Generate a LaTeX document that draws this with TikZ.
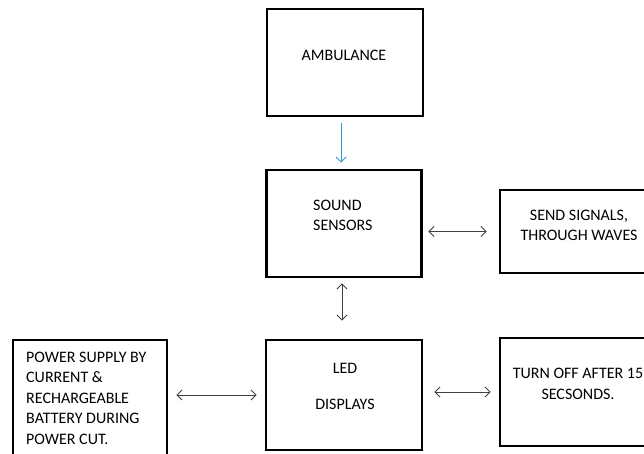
\documentclass[tikz,border=0pt]{standalone}
\usepackage{fontspec}
\setmainfont{Carlito}
\usetikzlibrary{arrows.meta}

\begin{document}
\begin{tikzpicture}[x=1pt, y=-1pt,
		box/.style={draw=black, line width=2.8pt, inner sep=0pt},
		txt/.style={inner sep=0pt, font=\fontsize{16}{20}\selectfont},
		link/.style={draw=black!75, line width=0.9pt, {Straight Barb[length=5pt,width=10pt]}-{Straight Barb[length=5pt,width=10pt]}},
		feed/.style={draw=blue!35!cyan!60!gray, line width=0.9pt, -{Straight Barb[length=5pt,width=10pt]}}]
				%%%%% START %%%%%
				\useasboundingbox (0, 0) rectangle (644, 453);
				\clip (0, 0) rectangle (644, 453);
				
				\node[box, minimum width=156, minimum height=107] (amb) at (345, 62.5) {};
				\node[box, minimum width=155, minimum height=107] (sens) at (344, 223.5) {};
				\node[box, minimum width=150, minimum height=83] (send) at (575, 231.5) {};
				\node[box, minimum width=154, minimum height=120] (power) at (90, 400) {};
				\node[box, minimum width=156, minimum height=110] (led) at (344, 395) {};
				\node[box, minimum width=150, minimum height=108] (off) at (575, 392) {};
				
				\node[txt] (ambtxt) at (344, 55) {AMBULANCE};
				\node[txt, align=left, anchor=west] (senstxt) at (313, 215) {SOUND\\SENSORS};
				\node[txt, align=center] (sendtxt) at (579, 225) {SEND SIGNALS,\\THROUGH WAVES};
				\node[txt, align=left, anchor=west, font=\fontsize{16}{20.5}\selectfont] (powertxt) at (26, 398) {POWER SUPPLY BY\\CURRENT \&\\RECHARGEABLE\\BATTERY DURING\\POWER CUT.};
				\node[txt, align=center, font=\fontsize{16}{36}\selectfont] (ledtxt) at (345, 386) {LED\\DISPLAYS};
				\node[txt, align=center, font=\fontsize{16}{21}\selectfont] (offtxt) at (578, 383.5) {TURN OFF AFTER 15\\SECSONDS.};
				
				\draw[feed, shorten <=6pt, shorten >=6pt] ([xshift=-4]amb.south) -- ([xshift=-3]sens.north);
				\draw[link, shorten <=5pt, shorten >=18pt] ([xshift=-2]sens.south) -- ([xshift=-2]led.north);
				\draw[link, shorten <=5.5pt, shorten >=12pt] (sens.east |- send.west) -- (send.west);
				\draw[link, shorten <=8pt, shorten >=8pt] (power.east |- led.west) -- (led.west);
				\draw[link, shorten <=11pt, shorten >=8pt] (led.east |- off.west) -- (off.west);
				%%%%% END %%%%%
\end{tikzpicture}
\end{document}
